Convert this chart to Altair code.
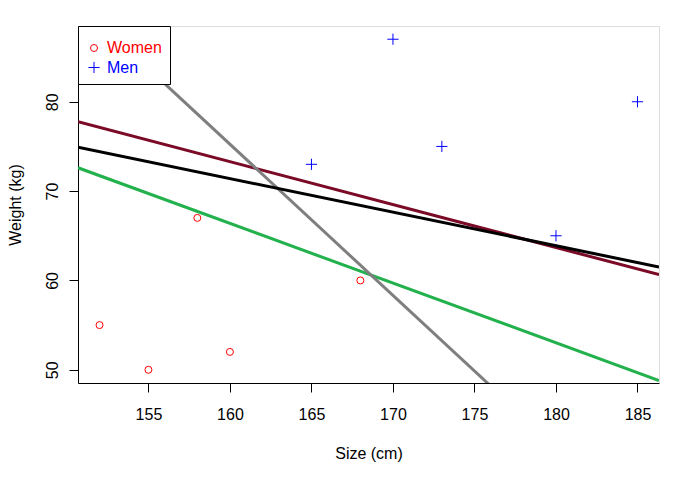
import altair as alt
import pandas as pd

# ---- data ----
women_size = [152, 155, 158, 160, 168]
women_weight = [55, 50, 67, 52, 60]
men_size = [165, 170, 173, 180, 185]
men_weight = [73, 87, 75, 65, 80]
groups = ["Women", "Men"]

# straight lines: endpoints read at the plot edges
line_x0 = [150.68, 150.68, 150.68, 150.68]
line_y0 = [77.78, 72.61, 91.02, 74.90]
line_x1 = [186.32, 186.32, 186.32, 186.32]
line_y1 = [60.65, 48.80, 30.71, 61.51]
line_colors = ["#7b0a26", "#22b14c", "#7f7f7f", "#000000"]

x_domain = [150.68, 186.32]
y_domain = [48.52, 88.48]
x_ticks = [155, 160, 165, 170, 175, 180, 185]
y_ticks = [50, 60, 70, 80]

FONT = "Liberation Sans"

pts = pd.DataFrame({
    "size": women_size + men_size,
    "weight": women_weight + men_weight,
    "group": ["Women"] * len(women_size) + ["Men"] * len(men_size),
})

xs = alt.Scale(domain=x_domain, nice=False, zero=False)
ys = alt.Scale(domain=y_domain, nice=False, zero=False)

x_axis = alt.Axis(values=x_ticks, title="Size (cm)", grid=False, tickSize=9,
                  labelPadding=14, labelFontSize=16, labelFont=FONT,
                  titleFont=FONT, titleFontSize=16, titleFontWeight="normal",
                  titleX=290.5, titleY=70, titleBaseline="middle",
                  domainColor="black", tickColor="black", labelColor="black",
                  titleColor="black")
y_axis = alt.Axis(values=y_ticks, title="Weight (kg)", grid=False, tickSize=9,
                  labelPadding=17, labelFontSize=16, labelFont=FONT,
                  labelAngle=-90, labelAlign="center", labelBaseline="middle",
                  titleFont=FONT, titleFontSize=16, titleFontWeight="normal",
                  titleX=-63, titleY=178.5, titleBaseline="middle", titleAngle=-90,
                  domainColor="black", tickColor="black", labelColor="black",
                  titleColor="black")

legend = alt.Legend(
    title=" ", titleFontSize=1, titlePadding=5,
    orient="top-left", offset=0, padding=8,
    strokeColor="black", fillColor="white", cornerRadius=0,
    labelFont=FONT, labelFontSize=16,
    labelColor={"expr": "datum.value === 'Women' ? '#ff0000' : '#0000ff'"},
    symbolSize=49, symbolStrokeWidth=1, rowPadding=3.5, labelOffset=5,
)

points = alt.Chart(pts).mark_point(filled=False, size=49, strokeWidth=1, opacity=1).encode(
    x=alt.X("size:Q", scale=xs, axis=x_axis),
    y=alt.Y("weight:Q", scale=ys, axis=y_axis),
    color=alt.Color("group:N", scale=alt.Scale(domain=groups, range=["#ff0000", "#0000ff"]), legend=legend),
    shape=alt.Shape("group:N", scale=alt.Scale(domain=groups, range=["circle", "M-1.6,0L1.6,0M0,-1.6L0,1.6"]), legend=legend),
)

layers = [points]
for i in range(len(line_colors)):
    df = pd.DataFrame({"size": [line_x0[i], line_x1[i]], "weight": [line_y0[i], line_y1[i]]})
    layers.append(
        alt.Chart(df).mark_line(clip=True, strokeWidth=3, color=line_colors[i]).encode(
            x=alt.X("size:Q", scale=xs),
            y=alt.Y("weight:Q", scale=ys),
        )
    )

chart = alt.layer(*layers).properties(
    width=581, height=357,
    autosize=alt.AutoSizeParams(type="none"),
    padding={"left": 70, "top": 18, "right": 30, "bottom": 80},
).configure_view(stroke="black", strokeWidth=1).configure(background="white")

chart.save("out.html", embed_options={"renderer": "svg", "actions": False})
